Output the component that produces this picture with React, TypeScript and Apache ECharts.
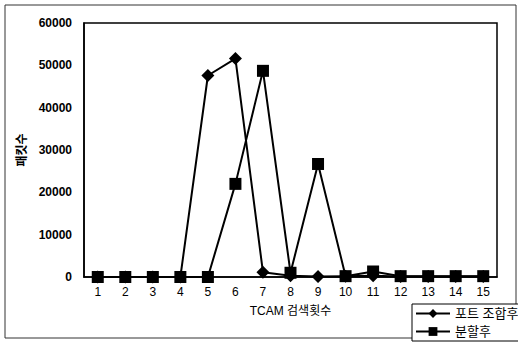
import React, { useEffect, useRef } from "react";
import * as echarts from "echarts";

const categories = ["1","2","3","4","5","6","7","8","9","10","11","12","13","14","15"];
const portCombined = [0, 0, 0, 0, 47600, 51600, 1100, 300, 100, 200, 300, 100, 100, 100, 100];
const split = [0, 0, 0, 0, 0, 22000, 48700, 1000, 26700, 200, 1300, 200, 200, 200, 200];
const seriesNames = ["포트 조합후", "분할후"];

const FONT = "'Liberation Sans', 'Noto Sans CJK KR', sans-serif";

export default function App() {
  const ref = useRef<HTMLDivElement>(null);
  useEffect(() => {
    const chart = echarts.init(ref.current!, null, { renderer: "svg" });
    chart.setOption({
      animation: false,
      backgroundColor: "#fff",
      textStyle: { fontFamily: FONT, color: "#000" },
      graphic: [
        {
          type: "rect",
          shape: { x: 5, y: 5, width: 511, height: 333 },
          style: { fill: "none", stroke: "#333", lineWidth: 1 },
          z: -1,
        },
      ],
      grid: { left: 84, right: 21, top: 23, bottom: 68, show: true, borderColor: "#000", borderWidth: 1.5 },
      xAxis: {
        type: "category",
        data: categories,
        boundaryGap: true,
        name: "TCAM 검색횟수",
        nameLocation: "middle",
        nameGap: 28,
        nameTextStyle: { fontSize: 12, fontFamily: FONT, color: "#000" },
        axisLine: { lineStyle: { color: "#000", width: 1.5 } },
        axisTick: { show: false },
        axisLabel: { fontSize: 12, color: "#000", fontFamily: FONT, margin: 9 },
      },
      yAxis: {
        type: "value",
        min: 0,
        max: 60000,
        interval: 10000,
        name: "패킷수",
        nameLocation: "middle",
        nameGap: 52,
        nameTextStyle: { fontSize: 12, fontWeight: "bold", fontFamily: FONT, color: "#000" },
        axisLine: { show: true, lineStyle: { color: "#000", width: 1.5 } },
        axisTick: { show: false },
        splitLine: { show: false },
        axisLabel: {
          fontSize: 12,
          fontWeight: "bold",
          color: "#000",
          fontFamily: FONT,
          margin: 12,
          formatter: (v: number) => String(v),
        },
      },
      legend: {
        orient: "vertical",
        left: 412,
        top: 304,
        data: seriesNames,
        borderColor: "#000",
        borderWidth: 1,
        backgroundColor: "#fff",
        padding: [3, 4, 3, 3],
        itemGap: 5,
        itemWidth: 34,
        itemHeight: 11,
        textStyle: { fontSize: 13, color: "#000", fontFamily: FONT },
      },
      series: [
        {
          name: seriesNames[0],
          type: "line",
          data: portCombined,
          symbol: "diamond",
          symbolSize: 13,
          lineStyle: { color: "#000", width: 2 },
          itemStyle: { color: "#000" },
          z: 3,
        },
        {
          name: seriesNames[1],
          type: "line",
          data: split,
          symbol: "rect",
          symbolSize: 12,
          lineStyle: { color: "#000", width: 2 },
          itemStyle: { color: "#000" },
          z: 2,
        },
      ],
    });
    return () => chart.dispose();
  }, []);
  return <div ref={ref} style={{ width: 518, height: 345, position: "absolute", left: 0, top: 0 }} />;
}
